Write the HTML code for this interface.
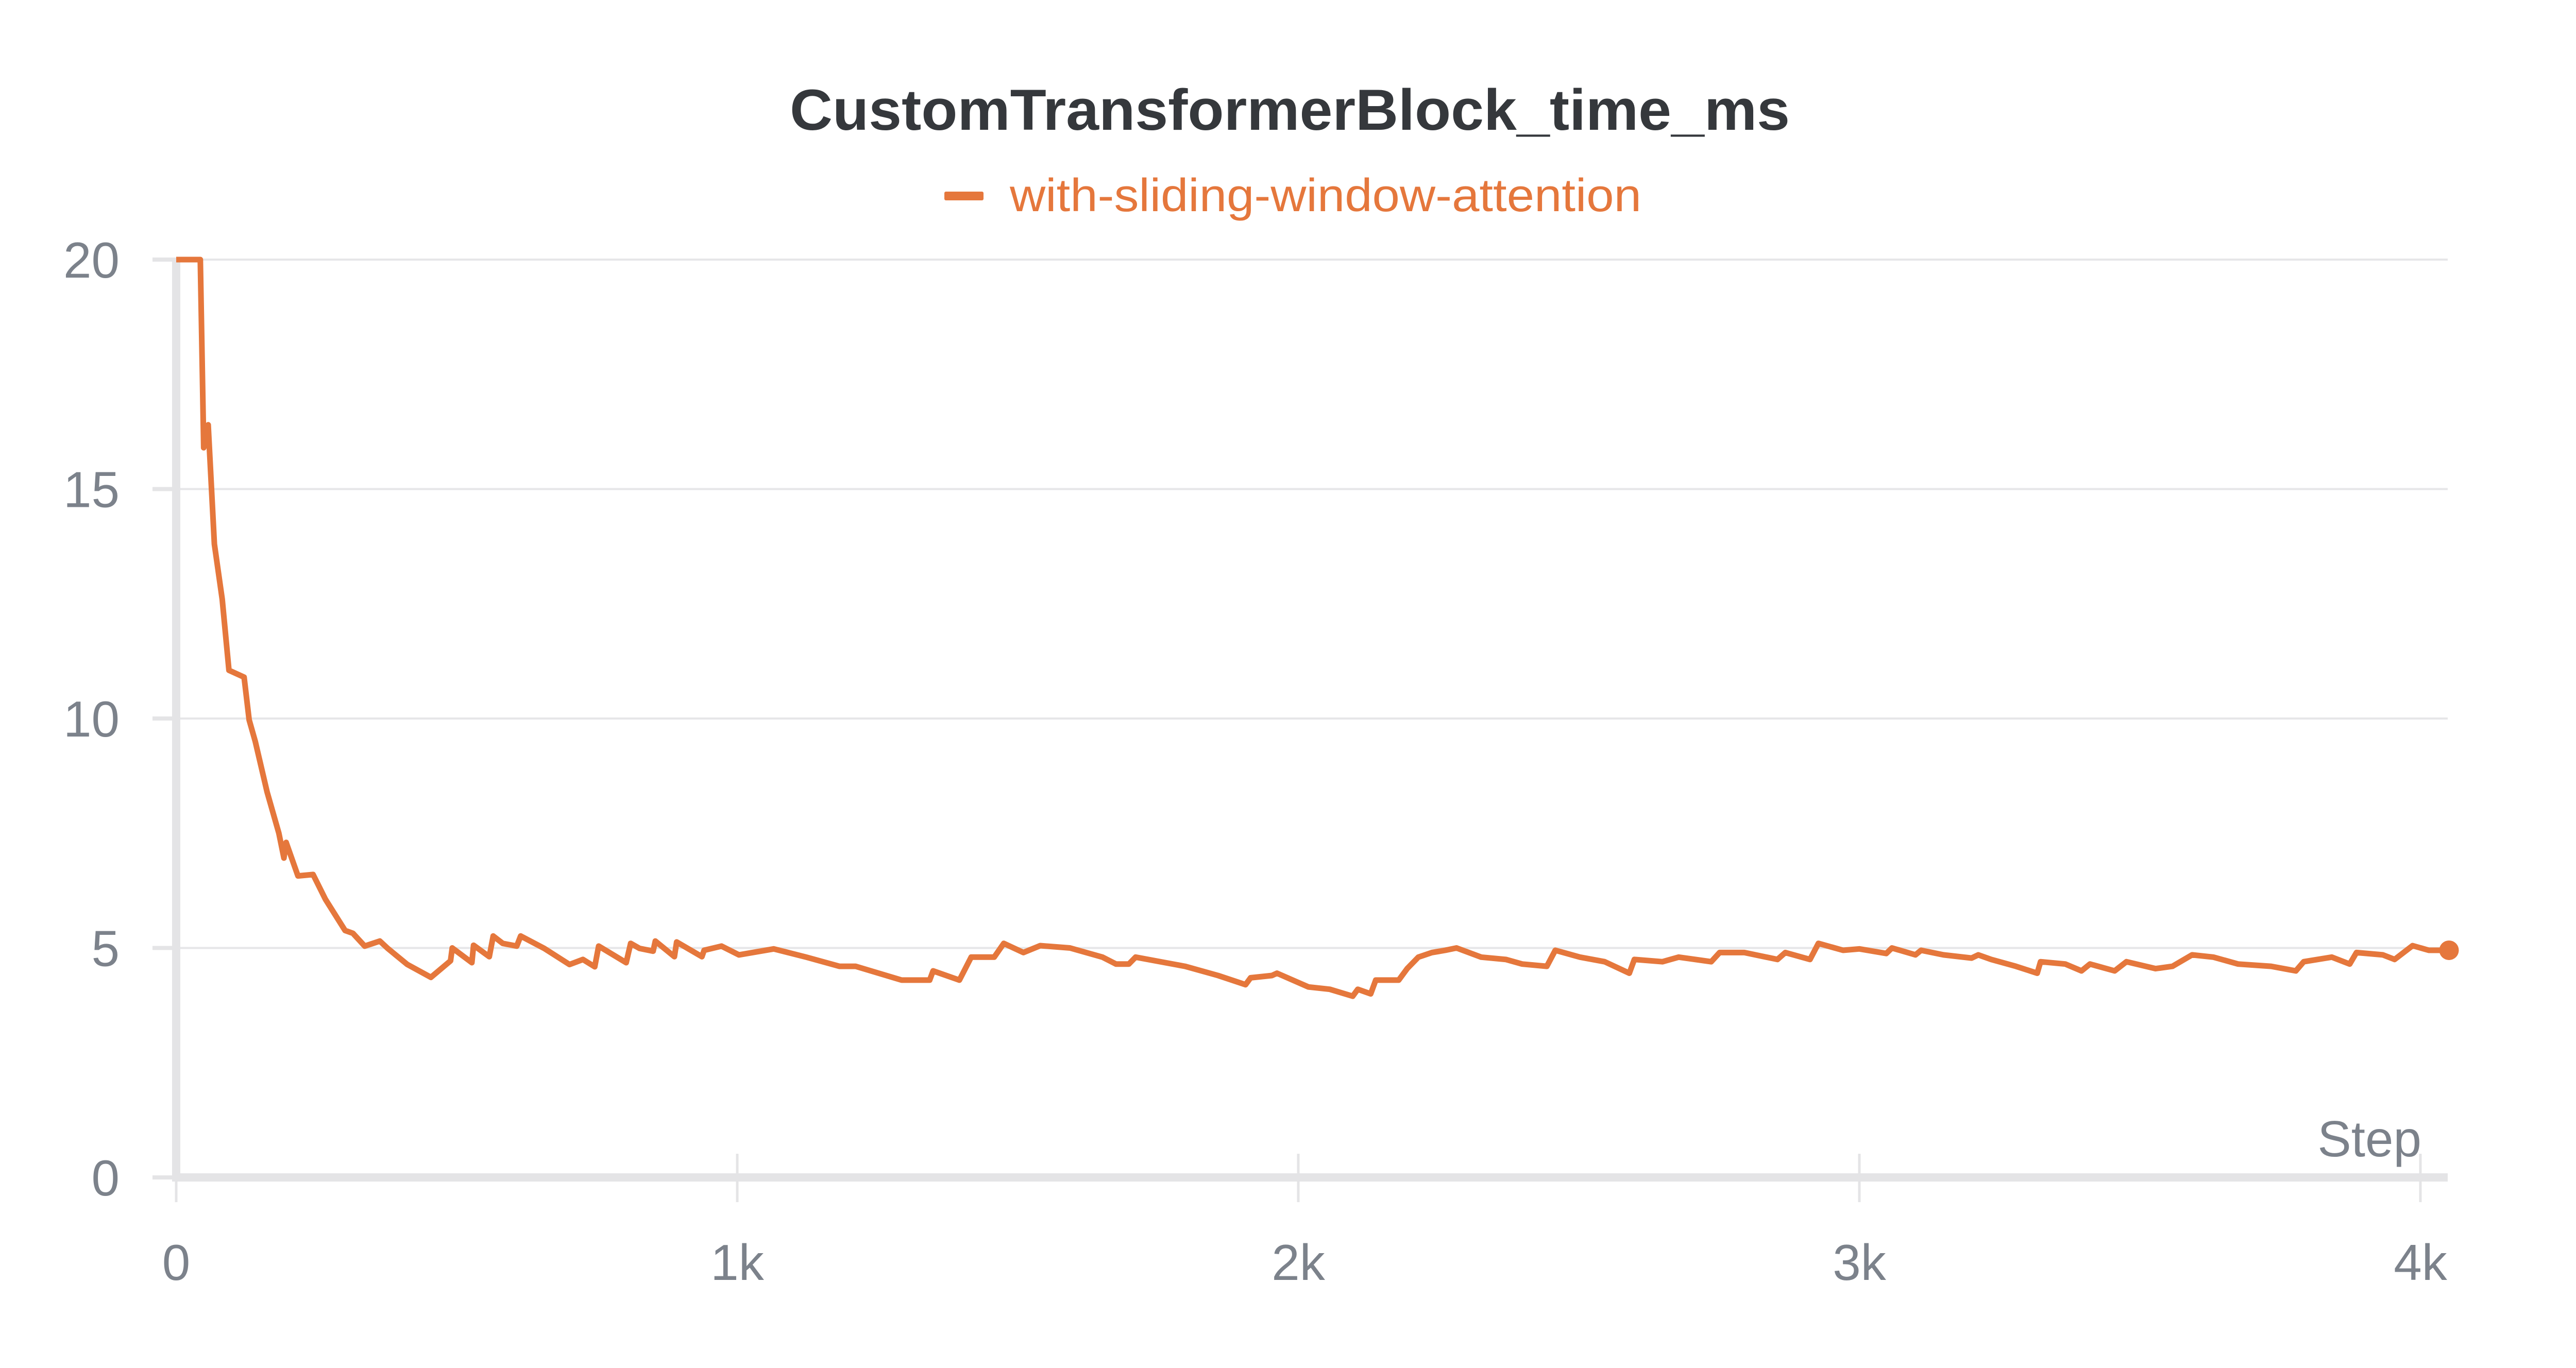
<!DOCTYPE html>
<html><head><meta charset="utf-8"><style>
html,body{margin:0;padding:0;background:#fff;width:5056px;height:2656px;overflow:hidden}
svg{display:block}
text{font-family:"Liberation Sans",sans-serif}
</style></head><body>
<svg id="chart" width="5056" height="2656" viewBox="0 0 5056 2656" xmlns="http://www.w3.org/2000/svg">
<text x="1533" y="252" font-size="112" font-weight="bold" fill="#35383c" textLength="1941" lengthAdjust="spacingAndGlyphs">CustomTransformerBlock_time_ms</text>
<g>
<rect x="1833" y="372" width="76" height="17" rx="3" fill="#e5773c"/>
<text x="1960" y="410" font-size="90" fill="#e5773c" textLength="1226" lengthAdjust="spacingAndGlyphs">with-sliding-window-attention</text>
</g>
<g id="grid"></g>
<g id="axes"></g>
<g id="series"></g>
</svg>
<script>
const steps=[0,43,49,57,68,82,94,121,130,141,162,183,192,196,217,244,266,301,315,336,363,377,412,454,489,492,527,530,558,565,582,607,614,656,701,725,746,753,802,810,826,850,854,888,892,937,941,972,1003,1065,1123,1182,1211,1293,1343,1349,1396,1417,1458,1475,1510,1540,1593,1651,1675,1698,1710,1798,1857,1906,1915,1953,1962,2018,2056,2097,2106,2129,2138,2179,2194,2214,2238,2262,2282,2326,2370,2399,2443,2458,2502,2546,2590,2599,2649,2678,2736,2751,2795,2854,2868,2912,2927,2971,3000,3048,3058,3100,3110,3150,3200,3212,3235,3279,3317,3323,3367,3396,3411,3455,3476,3528,3558,3593,3631,3675,3734,3778,3792,3842,3874,3886,3933,3954,3986,4015,4051];
const values=[20,20,15.9,16.4,13.8,12.6,11.05,10.9,9.97,9.5,8.4,7.5,6.96,7.3,6.57,6.6,6.06,5.38,5.32,5.04,5.15,4.99,4.64,4.36,4.72,5.0,4.68,5.06,4.81,5.26,5.1,5.04,5.26,4.99,4.64,4.75,4.59,5.04,4.68,5.1,4.99,4.93,5.15,4.81,5.13,4.81,4.95,5.04,4.85,4.98,4.8,4.6,4.6,4.3,4.3,4.5,4.3,4.8,4.8,5.1,4.9,5.05,5.0,4.8,4.65,4.65,4.8,4.6,4.4,4.2,4.35,4.4,4.45,4.15,4.1,3.95,4.1,4.0,4.3,4.3,4.55,4.8,4.9,4.95,5.0,4.8,4.75,4.65,4.6,4.95,4.8,4.7,4.45,4.75,4.7,4.8,4.7,4.9,4.9,4.75,4.9,4.75,5.1,4.95,4.98,4.88,5.0,4.85,4.95,4.85,4.78,4.85,4.75,4.6,4.45,4.7,4.65,4.5,4.65,4.5,4.7,4.55,4.6,4.85,4.8,4.65,4.6,4.5,4.7,4.8,4.65,4.9,4.85,4.75,5.05,4.95,4.95];
const yTicks=[0,5,10,15,20];
const xTicks=[0,1000,2000,3000,4000];
const xTickLabels=["0","1k","2k","3k","4k"];
const NS="http://www.w3.org/2000/svg";
const X0=342,XK=1.089,Y0=2286,YK=89.1;
const xs=s=>X0+s*XK, ys=v=>Y0-v*YK;
function mk(tag,attrs,parent,txt){const e=document.createElementNS(NS,tag);for(const k in attrs)e.setAttribute(k,attrs[k]);if(txt!==undefined)e.textContent=txt;parent.appendChild(e);return e;}
const grid=document.getElementById('grid'),axes=document.getElementById('axes'),ser=document.getElementById('series');
yTicks.forEach(t=>{
  if(t>0){const g=mk('line',{x1:296,x2:4751,y1:ys(t),y2:ys(t),stroke:'#e6e6e8','stroke-width':4},grid);
  
  }
  const tk=mk('line',{x1:296,x2:342,y1:ys(t),y2:ys(t),stroke:'#e4e4e6','stroke-width':8},axes);
  
  
  const lb=mk('text',{x:232,y:ys(t)+35,'font-size':98,fill:'#7c828b','text-anchor':'end'},axes,String(t));
  
  
});
xTicks.forEach((t,i)=>{
  const tk=mk('line',{x1:xs(t),x2:xs(t),y1:2240,y2:2334,stroke:'#e4e4e6','stroke-width':5},axes);
  
  
  const lb=mk('text',{x:xs(t),y:2485,'font-size':98,fill:'#7c828b','text-anchor':'middle'},axes,xTickLabels[i]);
  
  
});
const ya=mk('line',{x1:X0,x2:X0,y1:ys(20)-4,y2:Y0+8,stroke:'#e4e4e6','stroke-width':16},axes);


const xa=mk('line',{x1:X0-8,x2:4751,y1:Y0,y2:Y0,stroke:'#e4e4e6','stroke-width':16},axes);


const st=mk('text',{x:4700,y:2245,'font-size':98,fill:'#7c828b','text-anchor':'end'},axes,'Step');


const pts=steps.map((s,i)=>xs(s).toFixed(1)+','+ys(values[i]).toFixed(1)).join(' ');
const pl=mk('polyline',{points:pts,fill:'none',stroke:'#e5773c','stroke-width':11,'stroke-linejoin':'round'},ser);


const n=steps.length-1;
const dot=mk('circle',{cx:xs(steps[n]),cy:ys(values[n]),r:19,fill:'#e5773c'},ser);


</script>
</body></html>
